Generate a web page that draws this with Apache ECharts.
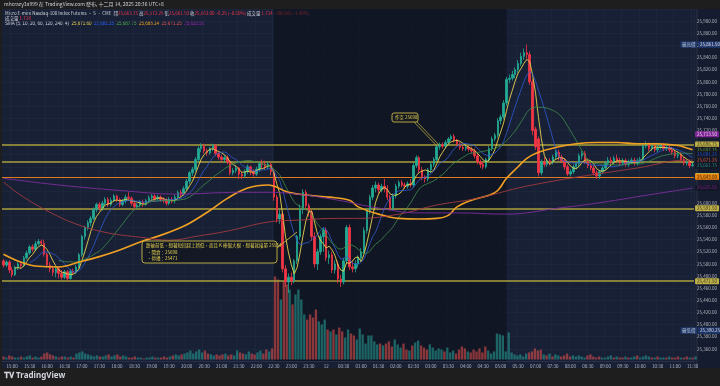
<!DOCTYPE html>
<html><head><meta charset="utf-8">
<script src="https://cdn.jsdelivr.net/npm/echarts@6/dist/echarts.min.js"></script>
<style>html,body{margin:0;padding:0;background:#1e1e1e;}#c{width:720px;height:386px;}</style>
</head><body><div id="c"></div>
<script>
// ---- sessions (5-minute bars) ----
const sessions = [['14:45','05:55'],['07:00','11:30']];
// ---- OHLC ----
const opens = [
25505,25498,25503,25490,25482,25494,25500,25497,25510,25518,
25528,25524,25533,25537,25534,25516,25498,25492,25486,25492,
25484,25478,25487,25476,25488,25486,25495,25515,25545,25560,
25568,25575,25590,25598,25592,25600,25606,25598,25605,25612,
25606,25598,25604,25610,25608,25600,25594,25597,25602,25598,
25604,25609,25612,25607,25610,25606,25604,25600,25606,25604,
25610,25618,25615,25624,25636,25650,25656,25672,25690,25695,
25686,25683,25690,25695,25682,25676,25672,25675,25668,25650,
25654,25658,25648,25645,25652,25660,25652,25648,25656,25665,
25664,25660,25664,25652,25610,25574,25582,25492,25470,25478,
25472,25505,25545,25590,25618,25596,25585,25545,25500,25520,
25545,25556,25510,25515,25490,25500,25475,25470,25505,25560,
25495,25492,25500,25510,25520,25555,25588,25610,25625,25630,
25622,25628,25624,25610,25592,25612,25628,25634,25630,25628,
25632,25630,25662,25675,25655,25642,25640,25655,25664,25672,
25693,25696,25694,25700,25706,25710,25704,25698,25692,25690,
25692,25689,25686,25678,25668,25664,25660,25672,25690,25706,
25712,25736,25742,25765,25804,25806,25812,25820,25830,25842,
25848,25845,25800,25722,25706,25650,25668,25664,25670,25668,
25676,25684,25676,25670,25660,25648,25652,25660,25665,25678,
25682,25670,25662,25658,25650,25645,25652,25658,25666,25671,
25668,25674,25670,25666,25670,25664,25668,25671,25666,25670,
25672,25694,25697,25690,25694,25688,25692,25695,25690,25692,
25688,25684,25678,25680,25672,25666,25668,25662];
const closes = [
25498,25503,25490,25482,25494,25500,25497,25510,25518,25528,
25524,25533,25537,25534,25516,25498,25492,25486,25492,25484,
25478,25487,25476,25488,25486,25495,25515,25545,25560,25568,
25575,25590,25598,25592,25600,25606,25598,25605,25612,25606,
25598,25604,25610,25608,25600,25594,25597,25602,25598,25604,
25609,25612,25607,25610,25606,25604,25600,25606,25604,25610,
25618,25615,25624,25636,25650,25656,25672,25690,25695,25686,
25683,25690,25695,25682,25676,25672,25675,25668,25650,25654,
25658,25648,25645,25652,25660,25652,25648,25656,25665,25664,
25660,25664,25652,25610,25574,25582,25492,25470,25478,25472,
25505,25545,25590,25618,25596,25585,25545,25500,25520,25545,
25556,25510,25515,25490,25500,25475,25470,25505,25560,25495,
25492,25500,25510,25520,25555,25588,25610,25625,25630,25622,
25628,25624,25610,25592,25612,25628,25634,25630,25628,25632,
25630,25662,25675,25655,25642,25640,25655,25664,25672,25693,
25696,25694,25700,25706,25710,25704,25698,25692,25690,25692,
25689,25686,25678,25668,25664,25660,25672,25690,25706,25712,
25736,25742,25765,25804,25806,25812,25820,25830,25842,25848,
25845,25800,25720,25693,25650,25668,25664,25670,25668,25676,
25684,25676,25670,25660,25648,25652,25660,25665,25678,25682,
25670,25662,25658,25650,25645,25652,25658,25666,25671,25668,
25674,25670,25666,25670,25664,25668,25671,25666,25670,25672,
25694,25697,25690,25694,25688,25692,25695,25690,25692,25688,
25684,25678,25680,25672,25666,25668,25662,25663];
const lows = [
25494,25495,25485,25478,25480,25490,25493,25495,25507,25515,
25520,25521,25530,25530,25512,25494,25486,25480,25478,25476,
25474,25475,25472,25474,25482,25483,25492,25512,25540,25555,
25562,25572,25585,25588,25588,25596,25594,25595,25602,25602,
25594,25595,25600,25604,25596,25590,25590,25593,25594,25596,
25601,25605,25603,25604,25602,25600,25596,25597,25600,25600,
25606,25610,25612,25620,25632,25645,25652,25668,25684,25682,
25678,25680,25686,25678,25672,25668,25667,25664,25646,25646,
25650,25640,25640,25642,25648,25646,25644,25645,25652,25658,
25655,25656,25646,25604,25568,25566,25486,25462,25452,25465,
25468,25500,25540,25582,25590,25578,25538,25494,25490,25515,
25520,25505,25500,25485,25484,25468,25462,25466,25500,25490,
25486,25486,25494,25505,25516,25550,25582,25605,25618,25616,
25618,25618,25605,25588,25588,25608,25624,25626,25624,25624,
25626,25626,25658,25650,25638,25634,25636,25650,25660,25668,
25688,25690,25690,25696,25702,25700,25694,25688,25686,25686,
25685,25682,25674,25664,25658,25656,25657,25668,25686,25702,
25708,25730,25738,25760,25798,25802,25806,25815,25826,25836,
25838,25795,25712,25688,25644,25646,25660,25660,25662,25664,
25672,25670,25666,25655,25645,25644,25648,25656,25660,25672,
25665,25658,25654,25646,25640,25640,25648,25654,25662,25664,
25664,25666,25662,25662,25660,25660,25664,25662,25662,25665,
25668,25690,25686,25686,25684,25684,25688,25686,25686,25684,
25680,25674,25674,25668,25662,25662,25658,25660];
const highs = [
25508,25506,25506,25495,25497,25503,25504,25513,25522,25531,
25532,25538,25541,25540,25540,25519,25503,25497,25495,25496,
25490,25490,25490,25491,25492,25499,25518,25548,25563,25572,
25579,25593,25601,25602,25604,25610,25610,25609,25615,25614,
25609,25607,25614,25618,25611,25604,25600,25605,25606,25607,
25613,25615,25615,25614,25613,25610,25608,25610,25610,25614,
25621,25622,25628,25640,25653,25660,25676,25694,25699,25698,
25690,25693,25698,25697,25686,25680,25679,25679,25670,25658,
25662,25660,25652,25656,25664,25662,25656,25660,25668,25672,
25670,25668,25667,25656,25614,25590,25586,25498,25484,25486,
25508,25548,25598,25623,25622,25600,25590,25552,25525,25550,
25560,25560,25522,25520,25506,25505,25482,25510,25564,25565,
25505,25506,25514,25526,25560,25592,25614,25630,25636,25634,
25632,25640,25630,25614,25616,25632,25638,25638,25634,25636,
25640,25666,25679,25678,25660,25646,25658,25668,25676,25696,
25700,25700,25704,25709,25713,25714,25706,25700,25695,25696,
25695,25693,25690,25682,25672,25668,25675,25694,25710,25716,
25740,25746,25770,25808,25812,25818,25824,25836,25848,25855,
25861.5,25850,25805,25726,25710,25672,25676,25674,25674,25680,
25688,25688,25680,25674,25664,25656,25664,25668,25682,25686,
25686,25674,25666,25662,25654,25655,25662,25670,25676,25676,
25678,25680,25675,25674,25674,25672,25675,25675,25674,25676,
25698,25702,25700,25698,25698,25697,25699,25699,25696,25696,
25692,25688,25684,25684,25676,25672,25671,25668];
// volume, thousands of contracts
const volK = [
1.7,1.1,2.3,1.7,1.1,1.1,1.7,1.1,1.7,2.3,
1.1,1.7,1.1,1.7,3.4,4.0,2.9,2.3,1.7,1.1,
1.7,1.7,1.1,1.7,1.1,3.4,4.0,4.6,3.4,2.9,
2.3,1.7,2.3,1.7,1.7,2.3,2.9,1.7,2.3,2.9,
1.7,2.3,1.7,1.1,1.1,1.7,1.1,1.1,0.6,1.1,
1.1,1.7,1.1,1.1,1.1,1.7,1.1,1.7,2.3,2.9,
2.3,2.9,3.4,4.0,5.1,3.4,4.6,5.7,4.0,5.1,
3.4,2.9,2.3,2.9,2.3,2.9,3.4,2.3,2.9,2.3,
5.1,4.0,3.4,2.9,4.6,3.4,2.9,4.0,5.1,3.4,
5.7,4.6,6.3,47.3,45.6,34.2,44.5,42.8,39.9,31.4,
37.1,39.9,34.2,25.7,22.8,25.7,23.9,28.5,21.7,20.0,
22.8,17.1,16.0,17.1,14.3,18.2,16.0,12.5,17.1,14.8,
13.7,11.4,17.7,14.3,9.1,13.7,13.7,10.3,8.6,9.1,
8.0,9.1,10.3,7.4,11.4,8.6,6.8,9.1,5.7,5.1,
8.0,9.7,10.8,8.0,6.8,5.7,8.6,6.8,5.1,6.3,
5.7,4.6,6.8,4.0,5.1,3.4,5.7,7.4,6.3,4.6,
4.0,5.7,4.6,6.3,4.0,7.4,5.1,3.4,4.6,14.8,
14.3,13.7,4.6,15.4,4.0,2.9,2.3,2.9,1.7,3.4,
4.0,4.6,6.3,5.1,5.7,2.9,2.3,3.4,1.7,2.9,
2.3,1.7,2.3,3.4,1.7,2.3,1.7,2.3,1.7,1.1,
2.3,2.9,1.7,1.1,1.7,1.1,1.1,1.7,2.3,1.1,
1.7,1.1,1.1,1.7,1.1,1.1,1.7,2.3,1.1,1.7,
2.3,1.7,1.1,1.1,1.7,1.1,1.1,1.1,1.7,1.1,
1.1,1.7,1.1,1.1,1.7,1.1,1.1,1.7];
// ---- longer moving averages ----
const ma60Times = ['14:45','15:15','15:45','16:20','16:55','17:30','18:05','18:40','19:15','19:45','20:05','20:40','21:10','21:45','22:20','22:55','23:30','00:05','00:40','00:55','01:30','02:05','02:40','03:10','03:30','03:45','04:10','04:40','04:55','05:10','05:30','05:45','07:05','07:40','08:10','08:45','09:20','09:55','10:30','11:05','11:20','11:30'];
const ma60Vals = [25516,25503,25496,25495,25503,25512,25523,25536,25547,25558,25567,25588,25608,25625,25630,25618,25613,25610,25605,25594,25582,25575,25574,25575,25580,25594,25605,25613,25621,25641,25660,25674,25684,25693,25698,25700,25700,25698,25698,25695,25691,25688];
const ma120Times = ['14:45','15:15','16:05','16:55','17:45','18:40','19:30','20:20','21:10','22:20','23:10','00:20','00:55','02:05','03:10','04:20','05:30','07:40','08:45','09:55','11:20','11:30'];
const ma120Vals = [25635,25613,25585,25564,25551,25544,25539,25546,25554,25569,25572,25575,25575,25582,25597,25608,25625,25638,25648,25658,25671,25671];
const ma240Times = ['14:45','16:20','18:05','19:45','21:30','22:20','23:10','00:20','01:30','02:40','03:45','05:10','07:40','08:45','10:10','11:30'];
const ma240Vals = [25641,25630,25621,25615,25618,25618,25615,25605,25592,25584,25584,25582,25592,25600,25613,25625];
// ---- horizontal levels ----
const levelVals = [25696.75, 25668.00, 25591.50, 25471.50];
const orangeLevel = 25643.00;
// ---- right-scale tags ----
const tagVals  = [25713.50, 25696.75, 25688.14, 25687.75, 25681.25, 25671.60, 25671.25, 25661.75, 25644.75, 25643.00, 25625.56, 25591.50, 25471.50];
const tagStyle = ['purple','yellow','ma60','ma20','ma10','ma5','ma120','teal','yellow','orange','ma240','yellow','yellow'];
const highestVal = 25861.50, lowestVal = 25390.25;

// ---------------------------------------------------------
function toMin(s){const [h,m]=s.split(':').map(Number);return h*60+m;}
function pad(n){return (n<10?'0':'')+n;}
const times=[];
sessions.forEach(([a,b])=>{let t=toMin(a),e=toMin(b);if(e<t)e+=1440;for(;t<=e;t+=5){const m=t%1440;times.push(pad(Math.floor(m/60))+':'+pad(m%60));}});
const N=times.length;
const candles=opens.map((o,i)=>[o,closes[i],lows[i],highs[i]]);
function sma(n){return closes.map((c,i)=>{if(i<n-1)return null;let s=0;for(let k=i-n+1;k<=i;k++)s+=closes[k];return +(s/n).toFixed(2);});}
function sparse(ts,vs){const a=new Array(N).fill(null);ts.forEach((t,k)=>{const i=times.indexOf(t);if(i>=0)a[i]=vs[k];});return a;}
const UP='#22ab94',DN='#f23645';
const fmt=v=>v.toLocaleString('en-US',{minimumFractionDigits:2,maximumFractionDigits:2});
const FONT='"Noto Sans CJK TC","Noto Sans",sans-serif';

const tagColors={
  purple:{bg:'#9c27b0',fg:'#ffffff'}, yellow:{bg:'#e8d44d',fg:'#131722'}, orange:{bg:'#f57c00',fg:'#131722'},
  ma60:{bg:'#131722',fg:'#f5a623'}, ma20:{bg:'#131722',fg:'#4caf50'}, ma10:{bg:'#131722',fg:'#2962ff'},
  ma5:{bg:'#131722',fg:'#e8d44d'}, ma120:{bg:'#131722',fg:'#ef5350'}, teal:{bg:'#131722',fg:'#26a69a'},
  ma240:{bg:'#131722',fg:'#9c27b0'}
};
const last=times[N-1];
const tagData=tagVals.map((v,k)=>({value:[last,v],label:{formatter:fmt(v),backgroundColor:tagColors[tagStyle[k]].bg,color:tagColors[tagStyle[k]].fg}}));

const chart=echarts.init(document.getElementById('c'),null,{width:720,height:386});
const G={left:2,right:23,top:9,bottom:25};
chart.setOption({
  animation:false,
  backgroundColor:'#1e1e1e',
  textStyle:{fontFamily:FONT},
  graphic:[
    {type:'rect',z:-10,shape:{x:2,y:9,width:718,height:359},style:{fill:'#182036'}},
    {type:'rect',z:-9,shape:{x:697,y:9,width:23,height:359},style:{fill:'#161c2f'}},
    {type:'line',z:-8,shape:{x1:697,y1:9,x2:697,y2:368},style:{stroke:'#2a3047',lineWidth:1}},
    {type:'text',left:4,top:2,style:{text:'mhcrazy3a999 在 TradingView.com 發布, 十二月 14, 2025 20:36 UTC+8',fill:'#d1d4dc',fontSize:5,fontFamily:FONT}},
    {type:'text',left:5,top:11,style:{rich:{w:{fill:'#d1d4dc',fontSize:4.5,fontFamily:FONT},r:{fill:'#f23645',fontSize:4.5,fontFamily:FONT}},
      text:'{w|Micro E-mini Nasdaq-100 Index Futures · 5 · CME  }{w|開}{r|25,663.75 }{w|高}{r|25,672.25 }{w|低}{r|25,661.50 }{w|收}{r|25,663.00 −0.25 (−0.00%) }{w|成交量 }{r|1.714 −386.00 (−1.48%)}'}},
    {type:'text',left:5,top:16,style:{rich:{w:{fill:'#d1d4dc',fontSize:4.5,fontFamily:FONT},r:{fill:'#f23645',fontSize:4.5,fontFamily:FONT}},text:'{w|成交量 }{r|1.71K}'}},
    {type:'text',left:5,top:21,style:{rich:{w:{fill:'#d1d4dc',fontSize:4.5},a:{fill:'#e8d44d',fontSize:4.5},b:{fill:'#2962ff',fontSize:4.5},c:{fill:'#4caf50',fontSize:4.5},d:{fill:'#f5a623',fontSize:4.5},e:{fill:'#ef5350',fontSize:4.5},f:{fill:'#9c27b0',fontSize:4.5}},
      text:'{w|SMA (5, 10, 20, 60, 120, 240, 4)  }{a|25,671.60  }{b|25,681.25  }{c|25,687.75  }{d|25,688.14  }{e|25,671.25  }{f|25,625.56}'}},
    // note box 1
    {type:'rect',z:20,shape:{x:142,y:241,width:135,height:22,r:3},style:{fill:'rgba(19,23,34,0.9)',stroke:'#b8a840',lineWidth:1}},
    {type:'line',z:20,shape:{x1:277,y1:248,x2:297,y2:232},style:{stroke:'#b8a840',lineWidth:1}},
    {type:'text',z:21,left:146,top:243.5,style:{text:'跌破前低，想著短回起上新低，而且 K 棒很大根，想著就接單 25554',fill:'#e8d44d',fontSize:4.5,fontFamily:FONT}},
    {type:'text',z:21,left:147,top:250.5,style:{text:'・開倉：25698',fill:'#e8d44d',fontSize:4.5,fontFamily:FONT}},
    {type:'text',z:21,left:147,top:256,style:{text:'・停損：25471',fill:'#e8d44d',fontSize:4.5,fontFamily:FONT}},
    // note box 2
    {type:'rect',z:20,shape:{x:392,y:113,width:26,height:9,r:2},style:{fill:'rgba(19,23,34,0.9)',stroke:'#b8a840',lineWidth:1}},
    {type:'text',z:21,left:395,top:115,style:{text:'作空 25698',fill:'#e8d44d',fontSize:4.5,fontFamily:FONT}},
    {type:'line',z:20,shape:{x1:417,y1:122,x2:439,y2:145},style:{stroke:'#b8a840',lineWidth:0.8}},
    {type:'line',z:20,shape:{x1:414,y1:122,x2:437,y2:146},style:{stroke:'#b8a840',lineWidth:0.8}},
    // footer
    {type:'text',left:4,top:372,style:{text:'𝐓𝐕 TradingView',fill:'#d1d4dc',fontSize:8,fontWeight:'bold',fontFamily:'"Noto Sans",sans-serif'}}
  ],
  grid:[
    {left:G.left,right:G.right,top:G.top,bottom:G.bottom},
    {left:G.left,right:G.right,top:259.5,bottom:26.5}
  ],
  xAxis:[
    {type:'category',data:times,gridIndex:0,boundaryGap:true,
      axisLine:{show:true,lineStyle:{color:'#2a3047'}},axisTick:{show:false},
      axisLabel:{interval:(i)=>(i-3)%6===0,formatter:(v)=>v==='00:00'?'12':v,color:'#b2b5be',fontSize:4.5,margin:3},
      splitLine:{show:true,interval:(i)=>(i-3)%6===0,lineStyle:{color:'#20283e',width:0.6}}},
    {type:'category',data:times,gridIndex:1,boundaryGap:true,show:false}
  ],
  yAxis:[
    {type:'value',gridIndex:0,position:'right',min:25340,max:25920,interval:20,scale:true,
      axisLine:{show:false},axisTick:{show:false},
      axisLabel:{color:'#b2b5be',fontSize:4.5,margin:3,formatter:(v)=>(v>=25620&&v<=25700)||v<=25340||v>=25920?'':fmt(v)},
      splitLine:{lineStyle:{color:'#20283e',width:0.6}}},
    {type:'value',gridIndex:1,min:0,max:57,show:false,splitLine:{show:false}}
  ],
  series:[
    {type:'bar',name:'成交量',xAxisIndex:1,yAxisIndex:1,barWidth:'80%',z:1,
      data:volK.map((v,i)=>({value:v,itemStyle:{color:closes[i]>=opens[i]?'rgba(38,166,154,0.55)':'rgba(239,83,80,0.55)'}}))},
    {type:'candlestick',name:'MNQ',data:candles,barWidth:'68%',z:5,
      itemStyle:{color:UP,color0:DN,borderColor:UP,borderColor0:DN,borderWidth:0.8},
      markArea:{silent:true,itemStyle:{color:'rgba(12,14,22,0.55)'},data:[[{xAxis:'22:30'},{xAxis:'05:10'}]]},
      markLine:{silent:true,symbol:'none',label:{show:false},
        data:levelVals.map(v=>({yAxis:v,lineStyle:{color:'#aa9f3c',width:1.5,type:'solid'}})).concat([{yAxis:orangeLevel,lineStyle:{color:'#e07b20',width:1,type:'solid'}}])}},
    {type:'line',name:'SMA5',data:sma(5),showSymbol:false,lineStyle:{color:'#e8d44d',width:0.9},z:6},
    {type:'line',name:'SMA10',data:sma(10),showSymbol:false,lineStyle:{color:'#2f5bd3',width:0.8},z:6},
    {type:'line',name:'SMA20',data:sma(20),showSymbol:false,lineStyle:{color:'#3e8e4a',width:0.8},z:6},
    {type:'line',name:'SMA60',data:sparse(ma60Times,ma60Vals),connectNulls:true,smooth:0.4,showSymbol:false,lineStyle:{color:'#f0a023',width:1.6},z:6},
    {type:'line',name:'SMA120',data:sparse(ma120Times,ma120Vals),connectNulls:true,smooth:0.4,showSymbol:false,lineStyle:{color:'#a33a3f',width:0.9},z:6},
    {type:'line',name:'SMA240',data:sparse(ma240Times,ma240Vals),connectNulls:true,smooth:0.4,showSymbol:false,lineStyle:{color:'#7d2e9e',width:0.9},z:6},
    {type:'scatter',name:'tags',data:tagData,symbolSize:0,z:30,clip:false,silent:true,
      label:{show:true,position:'right',distance:2.5,fontSize:4.5,padding:[1,2,0.5,2],borderRadius:1},
      labelLayout:{moveOverlap:'shiftY'}},
    {type:'scatter',name:'hl',symbolSize:0,z:30,clip:false,silent:true,
      data:[{value:[last,highestVal],label:{formatter:'{t|最高價} {v|'+fmt(highestVal)+'}'}},{value:[last,lowestVal],label:{formatter:'{t|最低價} {v|'+fmt(lowestVal)+'}'}}],
      label:{show:true,position:'right',distance:-12,fontSize:4.5,
        rich:{t:{backgroundColor:'#1f3c78',color:'#d1d4dc',fontSize:4.5,padding:[1,1.5]},v:{backgroundColor:'#1f3c78',color:'#ffffff',fontSize:4.5,padding:[1,2]}}}}
  ]
});
</script></body></html>
